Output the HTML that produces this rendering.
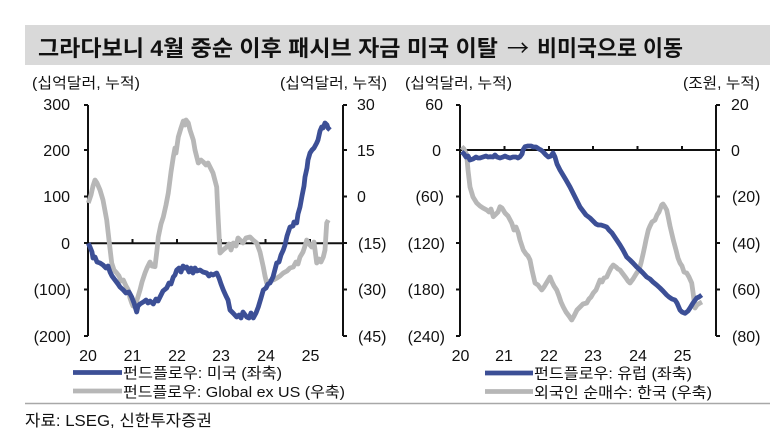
<!DOCTYPE html>
<html><head><meta charset="utf-8">
<style>
html,body{margin:0;padding:0;background:#fff;}
svg{display:block;}
text{font-family:"Liberation Sans","Noto Sans CJK KR",sans-serif;fill:#111;}
</style></head>
<body>
<svg width="780" height="445" viewBox="0 0 780 445" xmlns="http://www.w3.org/2000/svg">
<rect x="25" y="25" width="745" height="40" fill="#d9d9d9"/>
<text x="38" y="56" font-size="22" font-weight="bold">
<tspan textLength="460" lengthAdjust="spacingAndGlyphs">그라다보니 4월 중순 이후 패시브 자금 미국 이탈</tspan>
<tspan x="507" font-family="'Noto Sans CJK KR',sans-serif" font-weight="normal">→</tspan>
<tspan x="537" textLength="146" lengthAdjust="spacingAndGlyphs">비미국으로 이동</tspan>
</text>

<!-- unit labels -->
<text x="32" y="88" font-size="15" textLength="108" lengthAdjust="spacingAndGlyphs">(십억달러, 누적)</text>
<text x="280" y="88" font-size="15" textLength="107" lengthAdjust="spacingAndGlyphs">(십억달러, 누적)</text>
<text x="405" y="88" font-size="15" textLength="107" lengthAdjust="spacingAndGlyphs">(십억달러, 누적)</text>
<text x="683" y="88" font-size="15" textLength="77" lengthAdjust="spacingAndGlyphs">(조원, 누적)</text>

<!-- LEFT CHART -->
<g font-size="16">
<g text-anchor="end">
<text x="70" y="110">300</text>
<text x="70" y="156">200</text>
<text x="70" y="202">100</text>
<text x="70" y="249">0</text>
<text x="71" y="295">(100)</text>
<text x="71" y="342">(200)</text>
</g>
<g>
<text x="357" y="110">30</text>
<text x="357" y="156">15</text>
<text x="357" y="202">0</text>
<text x="358" y="249">(15)</text>
<text x="358" y="295">(30)</text>
<text x="358" y="342">(45)</text>
</g>
<g text-anchor="middle">
<text x="88" y="361">20</text>
<text x="132.5" y="361">21</text>
<text x="177" y="361">22</text>
<text x="221" y="361">23</text>
<text x="266" y="361">24</text>
<text x="310.5" y="361">25</text>
</g>
</g>
<g stroke="#111" stroke-width="2" fill="none">
<line x1="88" y1="105" x2="88" y2="336"/>
<line x1="343" y1="105" x2="343" y2="336"/>
<line x1="88" y1="243.3" x2="343" y2="243.3"/>
<path d="M84 105H88M84 150H88M84 196.5H88M84 243H88M84 289.5H88M84 336H88"/>
<path d="M343 105H347M343 150H347M343 196.5H347M343 243H347M343 289.5H347M343 336H347"/>
<path d="M132.5 243V239M177 243V239M221 243V239M265.5 243V239M310 243V239"/>
</g>
<polyline fill="none" stroke="#b7b7b7" stroke-width="4.8" stroke-linejoin="round" points="88.3,203 91,195 93,186 95,180 97,183 100,190 103,200 106.7,220 109,240 111.7,263 114,270 116.7,273 119,276 121,281 123.3,280 126,286 128.3,290 130,298 131.7,303 133,306 135,306.7 137,300 140,290 142,282 145,273 147,268 150,262 152,266 155,266.7 157,250 158.3,237 161,224 163.3,217 166,205 168.3,193 171,172 173.3,157 175,148 176,153 178.3,137 181,128 183.3,121 185,125 186,120 188.3,123 190,130 193.3,140 195,150 198.3,163 201,160 203.3,162 206,165 208,163 210,167 213,173 216.7,187 218,215 220,253 223,250 226.7,247 229,244 231,250 233.3,243 236,246 238,238 240,240 243,243 246,238 250,237 253,240 256.7,243 260,252 263.3,267 265,276 266.7,283 270,281 273.3,280 277,278 280,276 283.3,273 287,271 290,268 293.3,267 296,262 298,264 300,257 303,252 305,246 306.7,240 309,244 311.7,247 314,242 316.7,263 319,259 321,262 323.3,257 325,250 326.7,223 328.3,220"/>
<polyline fill="none" stroke="#3c4f96" stroke-width="4.8" stroke-linejoin="round" points="88.3,243.3 90,247 92,252 93,258 95,257 97,262 100,263 103,265 106,268 108,266 110,272 112,276 115,280 118,284 120,287 123.3,290 126,293 129,292 131.7,297 134,303 136.7,312 138,306 140,304 143.3,302 146,300 148,303 150,301 153.3,304 156,299 158,301 160,297 163,291 166.7,288 169,283 171,284 173.3,277 175,275 176.7,270 179,268 181,272 183,266 185,268 186.7,267 189,272 191,268 193,273 195,268 197,271 200,270 203,272 206.7,273 209,276 211,274 213,275 216.7,273 219,278 221,284 223.3,290 226,296 228,300 230,310 233,313 236.7,317 239,315 241,318 243,312 246.7,317 249,318 251,313 253.3,318 256,313 258.3,307 261,298 263.3,290 266,288 268,284 270,283 273,277 276.7,263 279,262 281,255 283.3,250 285,245 287,236 290,227 293,226 294,222 296.7,223 298,214 300,207 302,196 304,186 305,177 307,168 308,160 310,153 312,150 314,148 316.7,143 318,140 320,131 321.7,127 323,128 325,123 327,125 328,128 330,130"/>

<!-- left legend -->
<line x1="73" y1="372.5" x2="122" y2="372.5" stroke="#3c4f96" stroke-width="4.8"/>
<line x1="73" y1="391" x2="122" y2="391" stroke="#b7b7b7" stroke-width="4.8"/>
<text x="123" y="378" font-size="15" textLength="159" lengthAdjust="spacingAndGlyphs">펀드플로우: 미국 (좌축)</text>
<text x="123" y="397" font-size="15" textLength="222" lengthAdjust="spacingAndGlyphs">펀드플로우: Global ex US (우축)</text>

<!-- RIGHT CHART -->
<g font-size="16">
<g text-anchor="end">
<text x="443" y="110">60</text>
<text x="441" y="156">0</text>
<text x="444" y="202">(60)</text>
<text x="445" y="249">(120)</text>
<text x="445" y="295">(180)</text>
<text x="445" y="342">(240)</text>
</g>
<g>
<text x="731" y="110">20</text>
<text x="731" y="156">0</text>
<text x="732" y="202">(20)</text>
<text x="732" y="249">(40)</text>
<text x="732" y="295">(60)</text>
<text x="732" y="342">(80)</text>
</g>
<g text-anchor="middle">
<text x="460.5" y="361">20</text>
<text x="504" y="361">21</text>
<text x="549" y="361">22</text>
<text x="593" y="361">23</text>
<text x="638" y="361">24</text>
<text x="682.5" y="361">25</text>
</g>
</g>
<g stroke="#111" stroke-width="2" fill="none">
<line x1="460" y1="105" x2="460" y2="336"/>
<line x1="716" y1="105" x2="716" y2="336"/>
<line x1="460" y1="150" x2="716" y2="150"/>
<path d="M456 105H460M456 150H460M456 196.5H460M456 243H460M456 289.5H460M456 336H460"/>
<path d="M716 105H720M716 150H720M716 196.5H720M716 243H720M716 289.5H720M716 336H720"/>
<path d="M504.5 150V146M549 150V146M593 150V146M637.5 150V146M682 150V146"/>
</g>
<polyline fill="none" stroke="#b7b7b7" stroke-width="4.8" stroke-linejoin="round" points="461.7,146.7 464,149 466.7,155 468,170 470,187 473,197 476.7,203 480,206 483,208 486.7,210 489,212 491,209 493.3,216.7 496,214 498,212 500,206.7 502,208 505,213 508,216 511.7,223 514,230 516,227 518.3,233 520,240 523.3,250 526,254 528,256 530,260 532,270 535,283 538,285 541.7,290 544,287 547,282 550,277 552,282 554,286 556.7,290 559,296 561,302 563.3,307 566,312 569,316 571.7,320 574,316 577,310 580,307 583,304 586.7,303 589,299 591,297 593.3,293 596,290 598,285 600,280 602,282 604,278 606.7,277 609,272 611,268 613.3,265 616,267 618,269 620,270 623,274 626,278 628,281 630,283 633,279 636.7,273 639,270 641,263 643.3,253 645,245 646,240 648.3,230 650,226 652,222 655,220 657,215 659,212 661.7,205 663,204 665,207 666.7,210 668,216 670,226 673.3,240 676,250 678,258 680,263 682,266 684,272 686.7,273 689,277 691.7,283 693,292 695,308 697,305 700,303 702,302"/>
<polyline fill="none" stroke="#3c4f96" stroke-width="4.8" stroke-linejoin="round" points="461.7,151.7 464,154 466,157 468,156 470,160 473,159 476,157 478,158 480,158 483,157 486,156 488,157 490,156.7 493,157 495,155 497,157 500,158 503,157 505,156 507,157 510,158 513,157 516,157 518,158 520,156.7 522,154 523,150 525,146.7 528,146 531,146 533.3,147 536,147 539,149 541,150 543.3,152 546,155 548.3,157 551,156 553,153 555,157 557,164 560,170 563,175 566,180 570,187 573,193 576,199 580,207 583,211 586,215 590,218 593,221 596,224 598.3,225 601,225 604,226 606.7,227 609,230 612,233 616.7,240 620,245 623,250 626.7,257 630,260 633,263 636.7,267 640,270 643,273 646.7,277 650,279 653,282 656.7,285 660,288 663,291 666.7,295 669,297 672,299 675,300 677,303 680,310 682,312 685,313.3 688,311 690,308 693,303 696.7,298 699,297 701.7,295"/>

<!-- right legend -->
<line x1="485" y1="373" x2="533" y2="373" stroke="#3c4f96" stroke-width="4.8"/>
<line x1="485" y1="391.5" x2="533" y2="391.5" stroke="#b7b7b7" stroke-width="4.8"/>
<text x="534" y="378.5" font-size="15" textLength="158" lengthAdjust="spacingAndGlyphs">펀드플로우: 유럽 (좌축)</text>
<text x="534" y="397.5" font-size="15" textLength="178" lengthAdjust="spacingAndGlyphs">외국인 순매수: 한국 (우축)</text>

<!-- separator & source -->
<line x1="25" y1="403.5" x2="770" y2="403.5" stroke="#a8a8a8" stroke-width="1.5"/>
<text x="25" y="426" font-size="16" textLength="187" lengthAdjust="spacingAndGlyphs">자료: LSEG, 신한투자증권</text>
</svg>
</body></html>
